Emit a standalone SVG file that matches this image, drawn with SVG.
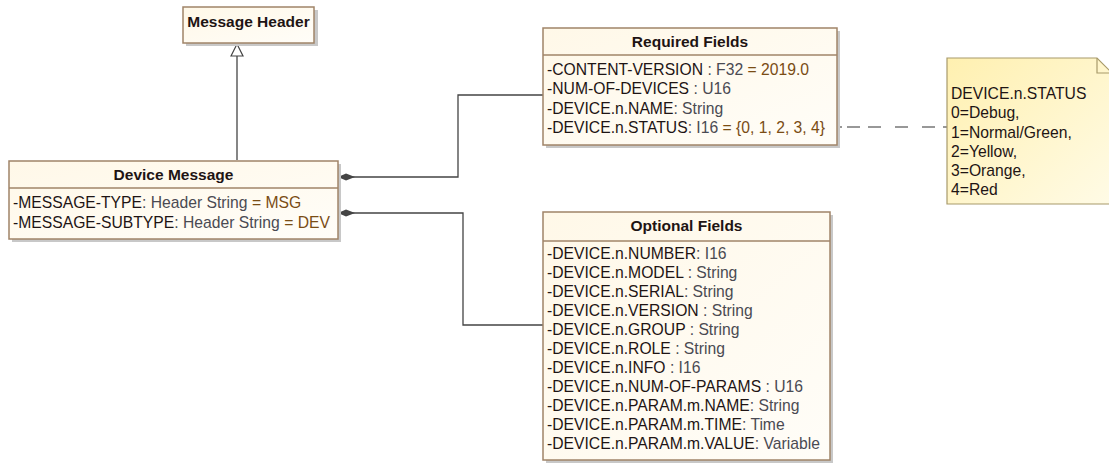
<svg xmlns="http://www.w3.org/2000/svg" width="1109" height="464" viewBox="0 0 1109 464">
<style>
.box{fill:url(#cream);stroke:#a08468;stroke-width:1.5}
.sh{fill:#c8c8c8}
.sep{stroke:#a08468;stroke-width:1.5}
.t{font-family:"Liberation Sans",Arial,sans-serif;font-size:15.7px;fill:#1e1414}
.b{font-weight:bold;text-anchor:middle;font-size:15.5px}
.ty{fill:#4a4a52}
.v{fill:#7a4c14}
.ln{fill:none;stroke:#444;stroke-width:1.3}
.note{fill:url(#yel);stroke:#a89a6a;stroke-width:1.2}
</style>
<defs>
<linearGradient id="cream" x1="0" y1="0" x2="1" y2="1">
<stop offset="0" stop-color="#fff8e8"/><stop offset="1" stop-color="#fffdf8"/>
</linearGradient>
<linearGradient id="yel" x1="0" y1="0" x2="1" y2="1">
<stop offset="0" stop-color="#fff0b0"/><stop offset="1" stop-color="#fffbe6"/>
</linearGradient>
</defs>

<g id="connectors">
<path class="ln" d="M237,160 L237,56"/>
<path d="M231,56 L237,44 L243,56 Z" fill="#fff" stroke="#444" stroke-width="1.2"/>
<path class="ln" d="M338,177 L458,177 L458,95 L543,95"/>
<path d="M338,177 L346,173.5 L355,177 L346,180.5 Z" fill="#444"/>
<path class="ln" d="M338,213 L463,213 L463,325 L543,325"/>
<path d="M338,213 L346,209.5 L355,213 L346,216.5 Z" fill="#444"/>
<path d="M834,127 L947,127" fill="none" stroke="#777" stroke-width="1.3" stroke-dasharray="8,5,13,8,13,14,13,14,13"/>
</g>

<g id="message-header">
<rect class="sh" x="186" y="10" width="132" height="36"/>
<rect class="box" x="183" y="7" width="131" height="36"/>
<text class="t b" x="248.5" y="27">Message Header</text>
</g>

<g id="device-message">
<rect class="sh" x="12" y="164" width="329" height="78"/>
<rect class="box" x="9" y="161" width="329" height="78"/>
<line class="sep" x1="9" y1="188" x2="338" y2="188"/>
<text class="t b" x="173.5" y="180">Device Message</text>
<text class="t" x="13" y="208">-MESSAGE-TYPE<tspan class="ty">: Header String</tspan><tspan class="v"> = MSG</tspan></text>
<text class="t" x="13" y="227.5">-MESSAGE-SUBTYPE<tspan class="ty">: Header String</tspan><tspan class="v"> = DEV</tspan></text>
</g>

<g id="required-fields">
<rect class="sh" x="546" y="31" width="294" height="117"/>
<rect class="box" x="543" y="28" width="294" height="117"/>
<line class="sep" x1="543" y1="55" x2="837" y2="55"/>
<text class="t b" x="690" y="47">Required Fields</text>
<text class="t" x="547" y="75">-CONTENT-VERSION <tspan class="ty">: F32</tspan><tspan class="v"> = 2019.0</tspan></text>
<text class="t" x="547" y="94">-NUM-OF-DEVICES <tspan class="ty">: U16</tspan></text>
<text class="t" x="547" y="113.5">-DEVICE.n.NAME<tspan class="ty">: String</tspan></text>
<text class="t" x="547" y="133">-DEVICE.n.STATUS<tspan class="ty">: I16</tspan><tspan class="v"> = {0, 1, 2, 3, 4}</tspan></text>
</g>

<g id="optional-fields">
<rect class="sh" x="546" y="215" width="287" height="248"/>
<rect class="box" x="543" y="212" width="287" height="248"/>
<line class="sep" x1="543" y1="241" x2="830" y2="241"/>
<text class="t b" x="686.5" y="231">Optional Fields</text>
<text class="t" x="547" y="259">-DEVICE.n.NUMBER<tspan class="ty">: I16</tspan></text>
<text class="t" x="547" y="278">-DEVICE.n.MODEL<tspan class="ty"> : String</tspan></text>
<text class="t" x="547" y="297">-DEVICE.n.SERIAL<tspan class="ty">: String</tspan></text>
<text class="t" x="547" y="316">-DEVICE.n.VERSION<tspan class="ty"> : String</tspan></text>
<text class="t" x="547" y="335">-DEVICE.n.GROUP<tspan class="ty"> : String</tspan></text>
<text class="t" x="547" y="353.5">-DEVICE.n.ROLE<tspan class="ty"> : String</tspan></text>
<text class="t" x="547" y="372.5">-DEVICE.n.INFO<tspan class="ty"> : I16</tspan></text>
<text class="t" x="547" y="391.5">-DEVICE.n.NUM-OF-PARAMS<tspan class="ty"> : U16</tspan></text>
<text class="t" x="547" y="410.5">-DEVICE.n.PARAM.m.NAME<tspan class="ty">: String</tspan></text>
<text class="t" x="547" y="430">-DEVICE.n.PARAM.m.TIME<tspan class="ty">: Time</tspan></text>
<text class="t" x="547" y="448.5">-DEVICE.n.PARAM.m.VALUE<tspan class="ty">: Variable</tspan></text>
</g>

<g id="status-note">
<path class="note" d="M947,58 L1097,58 L1112,73 L1112,204 L947,204 Z"/>
<path d="M1097,58 L1097,73 L1112,73" fill="none" stroke="#a89a6a" stroke-width="1.2"/>
<text class="t" x="951" y="99">DEVICE.n.STATUS</text>
<text class="t" x="951" y="118">0=Debug,</text>
<text class="t" x="951" y="137.5">1=Normal/Green,</text>
<text class="t" x="951" y="156.5">2=Yellow,</text>
<text class="t" x="951" y="176">3=Orange,</text>
<text class="t" x="951" y="195">4=Red</text>
</g>
</svg>
